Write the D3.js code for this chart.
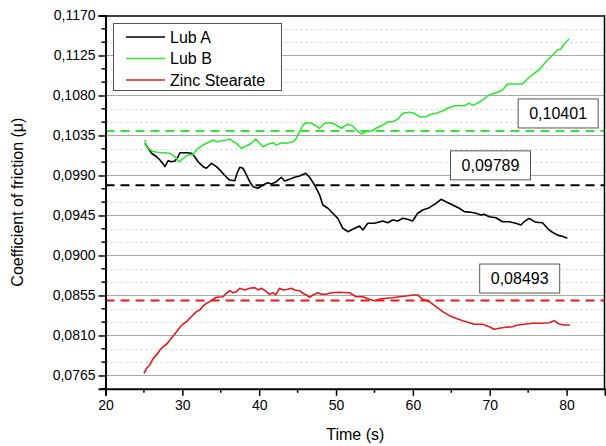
<!DOCTYPE html>
<html><head><meta charset="utf-8">
<script src="https://cdn.jsdelivr.net/npm/d3@7"></script>
<style>body{margin:0;background:#fff}svg{display:block;font-family:"Liberation Sans",Arial,sans-serif}</style>
</head><body><svg id="c" width="606" height="446"></svg>
<script>
// ---- data ----
const seriesNames = ["Lub A", "Lub B", "Zinc Stearate"];
const timeA = [25.13,25.56,26.0,26.65,27.08,27.51,27.73,28.16,28.6,29.03,29.45,29.68,30.55,31.19,31.62,32.05,32.7,33.14,33.79,34.44,35.09,35.74,36.17,36.82,37.12,37.47,37.9,38.34,38.77,39.19,39.84,40.49,41.14,41.58,42.23,42.88,43.31,43.96,44.61,45.26,46.04,46.56,47.21,47.86,48.29,48.94,49.58,50.23,50.88,51.53,52.18,53.05,53.48,54.13,55.0,56.08,56.73,57.38,58.03,58.68,59.32,59.97,60.62,61.27,62.14,63.01,63.66,64.31,65.17,66.04,66.69,67.56,68.21,68.86,69.29,69.94,70.81,71.66,72.53,73.4,74.05,74.48,75.13,76.0,76.86,77.73,78.38,79.03,79.45,80.1];
const lubA = [0.10262,0.10206,0.1015,0.10111,0.10074,0.10029,0.09999,0.10066,0.10055,0.10063,0.10111,0.10156,0.10156,0.1015,0.10111,0.10055,0.09999,0.09981,0.10037,0.09999,0.09943,0.0988,0.09849,0.09841,0.09925,0.09992,0.09981,0.09906,0.0983,0.09774,0.09756,0.09793,0.09819,0.09804,0.0983,0.0988,0.09838,0.09857,0.0988,0.09894,0.09925,0.0988,0.09793,0.09681,0.09568,0.09531,0.09475,0.09418,0.09306,0.09268,0.09295,0.09332,0.09287,0.09362,0.09362,0.09388,0.09369,0.09399,0.09388,0.09418,0.09407,0.09388,0.09475,0.09512,0.09538,0.09587,0.09632,0.09605,0.09568,0.09531,0.09493,0.09486,0.09475,0.09456,0.09463,0.09436,0.09425,0.0938,0.0938,0.09362,0.09343,0.0938,0.09418,0.09373,0.09369,0.09287,0.09249,0.09223,0.09216,0.09193];
const timeB = [25.13,25.35,26.0,26.65,27.47,28.38,28.81,29.25,29.58,30.1,30.75,31.4,31.84,32.49,33.14,33.57,34.0,34.44,35.09,35.74,36.17,36.6,37.04,37.69,38.34,38.99,39.55,40.06,40.49,41.14,41.79,42.23,42.88,43.53,44.39,44.83,45.26,45.69,46.13,46.78,47.43,47.86,48.51,49.38,50.03,50.68,51.53,52.18,52.62,53.27,53.92,54.57,55.22,56.08,56.73,57.38,58.03,58.68,59.55,60.19,60.84,61.71,62.36,63.01,63.87,64.52,65.39,66.69,67.34,67.77,68.21,69.06,69.94,70.81,71.66,72.31,73.4,74.26,75.13,75.78,76.43,77.3,77.95,78.81,79.25,79.68,80.33];
const lubB = [0.10299,0.10224,0.10176,0.10161,0.10156,0.1015,0.10123,0.10093,0.10052,0.10093,0.10131,0.10138,0.10187,0.10232,0.10262,0.1028,0.10299,0.1028,0.10291,0.10299,0.10311,0.1028,0.10262,0.10206,0.10232,0.10262,0.10311,0.10262,0.10224,0.10251,0.10269,0.10243,0.10269,0.10262,0.1028,0.10318,0.10393,0.10468,0.10494,0.10487,0.10457,0.10431,0.10487,0.10494,0.10468,0.10431,0.10479,0.10457,0.10412,0.10367,0.10393,0.10401,0.10431,0.10468,0.10505,0.10505,0.10532,0.106,0.10611,0.106,0.10561,0.10561,0.10588,0.106,0.10626,0.10656,0.10685,0.10685,0.10712,0.1069,0.10704,0.10749,0.10806,0.10831,0.10862,0.10929,0.10929,0.10929,0.11005,0.1105,0.11087,0.1118,0.11236,0.11312,0.1132,0.11379,0.11436];
const timeZ = [25.0,25.35,25.78,26.21,26.65,27.08,27.51,27.95,28.38,28.81,29.25,29.68,30.1,30.55,30.97,31.4,31.84,32.27,32.7,33.14,33.57,34.0,34.44,35.3,35.74,36.17,36.6,37.04,37.47,38.12,38.77,39.42,39.84,40.29,40.94,41.36,41.79,42.14,42.66,43.09,43.74,44.18,44.61,45.26,45.69,46.13,46.56,46.99,47.64,48.08,48.73,49.38,50.45,51.75,52.62,53.48,54.35,55.0,55.56,56.52,57.38,58.25,59.12,59.97,60.62,61.27,62.14,63.01,63.87,64.74,65.61,66.47,67.34,67.99,69.06,69.94,70.58,71.23,72.1,72.96,73.61,74.48,75.56,76.65,77.73,78.38,79.03,79.68,80.42];
const zincStearate = [0.07675,0.07731,0.07768,0.07843,0.07881,0.07937,0.07974,0.08001,0.08049,0.08094,0.08143,0.08192,0.08229,0.08255,0.08293,0.08331,0.08368,0.08387,0.08432,0.08462,0.0848,0.08507,0.0853,0.08536,0.08575,0.08604,0.08581,0.08593,0.08631,0.08612,0.08631,0.08638,0.08612,0.08631,0.08593,0.08563,0.08581,0.08556,0.08631,0.08612,0.0862,0.08631,0.08612,0.08604,0.08575,0.08556,0.0853,0.08556,0.08581,0.08563,0.08563,0.08581,0.08586,0.08581,0.08536,0.08536,0.08507,0.08491,0.08507,0.08518,0.08525,0.08536,0.08544,0.08556,0.08556,0.08507,0.0848,0.08424,0.08368,0.08323,0.08293,0.08266,0.08244,0.08226,0.08226,0.08199,0.0817,0.08181,0.08192,0.08199,0.08218,0.08226,0.08237,0.08237,0.08244,0.08266,0.08229,0.08218,0.08218];
const meanValues = [0.09789, 0.10401, 0.08493];
const meanLabels = ["0,09789", "0,10401", "0,08493"];
const xTicks = [20, 30, 40, 50, 60, 70, 80];
const yTicks = [0.0765, 0.0810, 0.0855, 0.0900, 0.0945, 0.0990, 0.1035, 0.1080, 0.1125, 0.1170];
const yTickLabels = ["0,0765","0,0810","0,0855","0,0900","0,0945","0,0990","0,1035","0,1080","0,1125","0,1170"];

// ---- layout ----
const colors = ["#000000", "#33e633", "#e41a1c"];
const L = 105.5, R = 605, T = 15.5, B = 388.8;
const svg = d3.select("#c");
const x = d3.scaleLinear().domain([20, 85]).range([L, R]);
const y = d3.scaleLinear().domain([0.075, 0.117]).range([B, T]);

// minor dotted grid
const minorY = d3.range(0, 29).map(i => 0.075 + i * 0.0015).filter(v => !yTicks.some(t => Math.abs(t - v) < 1e-7) && v < 0.1169);
svg.append("g").selectAll("line").data(minorY).join("line")
  .attr("x1", L).attr("x2", R).attr("y1", d => Math.round(y(d)) + 0.5).attr("y2", d => Math.round(y(d)) + 0.5)
  .attr("stroke", "#d0d0d0").attr("stroke-width", 1).attr("stroke-dasharray", "2,3");
// major solid grid
svg.append("g").selectAll("line").data(yTicks.slice(0, -1)).join("line")
  .attr("x1", L).attr("x2", R).attr("y1", d => Math.round(y(d)) + 0.5).attr("y2", d => Math.round(y(d)) + 0.5)
  .attr("stroke", "#a8a8a8").attr("stroke-width", 1);

// mean dashed lines
const order = [1, 0, 2];
svg.append("g").selectAll("line").data(meanValues).join("line")
  .attr("x1", L).attr("x2", R).attr("y1", d => y(d)).attr("y2", d => y(d))
  .attr("stroke", (d, i) => colors[i]).attr("stroke-width", 2).attr("stroke-dasharray", "9,6");

// series lines
const series = [
  {t: timeA, v: lubA},
  {t: timeB, v: lubB},
  {t: timeZ, v: zincStearate}
];
const line = d3.line().x(d => x(d[0])).y(d => y(d[1]));
svg.append("g").selectAll("path").data(series).join("path")
  .attr("d", s => line(s.t.map((t, i) => [t, s.v[i]])))
  .attr("fill", "none").attr("stroke", (d, i) => colors[i]).attr("stroke-width", 1.6).attr("stroke-linejoin", "round");

// frame: top and right
svg.append("line").attr("x1", L).attr("x2", R).attr("y1", T + 0.5).attr("y2", T + 0.5).attr("stroke", "#000").attr("stroke-width", 1.5);
svg.append("line").attr("x1", R - 0.5).attr("x2", R - 0.5).attr("y1", T).attr("y2", B).attr("stroke", "#000").attr("stroke-width", 1.5);

// axes
const xAxis = d3.axisBottom(x).tickValues(xTicks).tickSize(7).tickPadding(4).tickFormat(d3.format("d"));
const gx = svg.append("g").attr("transform", `translate(0,${B})`).call(xAxis);
gx.select(".domain").attr("stroke-width", 2);
gx.selectAll(".tick line").attr("stroke-width", 1.5);
gx.selectAll("text").attr("font-size", 14).attr("fill", "#000");
svg.append("g").attr("transform", `translate(0,${B})`).selectAll("line")
  .data(d3.range(25, 85, 10)).join("line")
  .attr("x1", d => x(d)).attr("x2", d => x(d)).attr("y1", 0).attr("y2", 4).attr("stroke", "#000").attr("stroke-width", 1.5);

const yAxis = d3.axisLeft(y).tickValues(yTicks).tickSize(7).tickPadding(3).tickFormat((d, i) => yTickLabels[i]);
const gy = svg.append("g").attr("transform", `translate(${L},0)`).call(yAxis);
gy.select(".domain").attr("stroke-width", 2);
gy.selectAll(".tick line").attr("stroke-width", 1.5);
gy.selectAll("text").attr("font-size", 14).attr("fill", "#000");
svg.append("g").attr("transform", `translate(${L},0)`).selectAll("line")
  .data(minorY.concat([0.075])).join("line")
  .attr("x1", -4).attr("x2", 0).attr("y1", d => y(d)).attr("y2", d => y(d)).attr("stroke", "#000").attr("stroke-width", 1.5);

// axis titles
svg.append("text").attr("x", (L + R) / 2).attr("y", 440).attr("text-anchor", "middle").attr("font-size", 16).text("Time (s)");
svg.append("text").attr("transform", `translate(23,${(T + B) / 2}) rotate(-90)`).attr("text-anchor", "middle").attr("font-size", 16).text("Coefficient of friction (\u03bc)");

// mean labels
const labelPos = [{t: 70.1, dy: -20}, {t: 78.9, dy: -17.5}, {t: 73.9, dy: -22}];
const lg = svg.append("g").selectAll("g").data(meanValues).join("g")
  .attr("transform", (d, i) => `translate(${x(labelPos[i].t)},${y(d) + labelPos[i].dy})`);
lg.append("rect").attr("x", -40).attr("y", -14.5).attr("width", 80).attr("height", 29)
  .attr("fill", "#fff").attr("stroke", "#555").attr("stroke-width", 1);
lg.append("text").attr("text-anchor", "middle").attr("dy", "0.35em").attr("font-size", 16).text((d, i) => meanLabels[i]);

// legend
const leg = svg.append("g");
leg.append("rect").attr("x", 113.5).attr("y", 23.5).attr("width", 168).attr("height", 67).attr("fill", "#fff").attr("stroke", "#555");
const items = leg.selectAll("g").data(seriesNames).join("g").attr("transform", (d, i) => `translate(0,${37 + i * 21.5})`);
items.append("line").attr("x1", 126).attr("x2", 165).attr("stroke", (d, i) => colors[i]).attr("stroke-width", 1.6);
items.append("text").attr("x", 170).attr("dy", "0.35em").attr("font-size", 16).text(d => d);
</script></body></html>
